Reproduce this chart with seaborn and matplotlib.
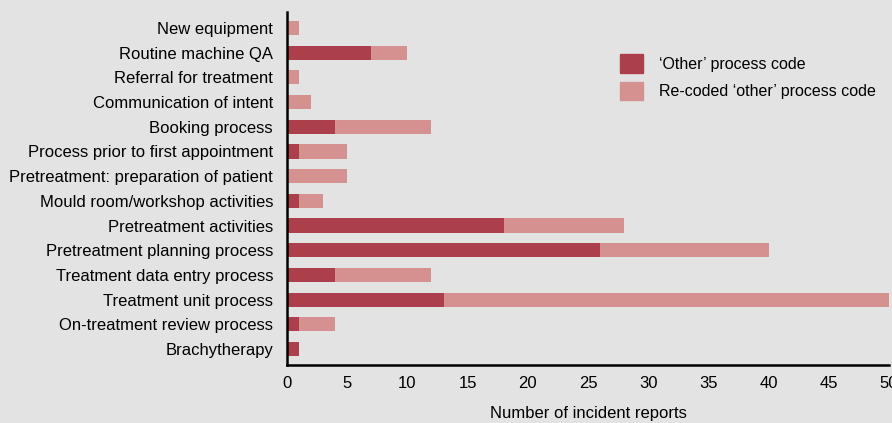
import pandas as pd
import seaborn as sns
import matplotlib.pyplot as plt
from matplotlib.patches import Patch

# data
categories = ['New equipment', 'Routine machine QA', 'Referral for treatment',
              'Communication of intent', 'Booking process',
              'Process prior to first appointment',
              'Pretreatment: preparation of patient',
              'Mould room/workshop activities', 'Pretreatment activities',
              'Pretreatment planning process', 'Treatment data entry process',
              'Treatment unit process', 'On-treatment review process',
              'Brachytherapy']
other = [0, 7, 0, 0, 4, 1, 0, 1, 18, 26, 4, 13, 1, 1]
recoded = [1, 3, 1, 2, 8, 4, 5, 2, 10, 14, 8, 37, 3, 0]
xticks = [0, 5, 10, 15, 20, 25, 30, 35, 40, 45, 50]

dark = '#ab3f4b'
light = '#d4918f'
bg = '#e3e3e3'

df = pd.DataFrame({'category': categories, 'other': other, 'recoded': recoded})
df['total'] = df['other'] + df['recoded']

sns.set_style('white')
plt.rcParams['font.family'] = ['Liberation Sans', 'DejaVu Sans']
plt.rcParams['text.color'] = 'black'

fig = plt.figure(figsize=(8.92, 4.23), dpi=100, facecolor=bg)
ax = fig.add_axes([287 / 892, 1 - 365 / 423, 602 / 892, 353 / 423])
ax.set_facecolor(bg)

sns.barplot(data=df, y='category', x='total', color=light, orient='h',
            width=0.57, saturation=1, linewidth=0, ax=ax)
sns.barplot(data=df, y='category', x='other', color=dark, orient='h',
            width=0.57, saturation=1, linewidth=0, ax=ax)

ax.set_xlim(0, 50)
ax.set_ylim(13.65, -0.65)
ax.set_xticks(xticks)
ax.set_xlabel('Number of incident reports', fontsize=12, labelpad=11, color='black')
ax.set_ylabel('')
ax.tick_params(axis='x', direction='in', length=7, width=1.5, labelsize=12, pad=8,
               colors='black')
ax.tick_params(axis='y', length=0, labelsize=12, pad=10, labelcolor='black')
for s in ['top', 'right']:
    ax.spines[s].set_visible(False)
for s in ['left', 'bottom']:
    ax.spines[s].set_linewidth(1.8)
    ax.spines[s].set_color('black')

handles = [Patch(color=dark, label='\u2018Other\u2019 process code'),
           Patch(color=light, label='Re-coded \u2018other\u2019 process code')]
leg = fig.legend(handles=handles, loc='upper left', bbox_to_anchor=(606 / 892, 1 - 40 / 423),
                 frameon=False, fontsize=11.5, handlelength=1.4, handleheight=1.4,
                 handletextpad=1.0, labelspacing=0.55)
for t in leg.get_texts():
    t.set_color('black')

fig.savefig('out.png', dpi=100, facecolor=bg)
